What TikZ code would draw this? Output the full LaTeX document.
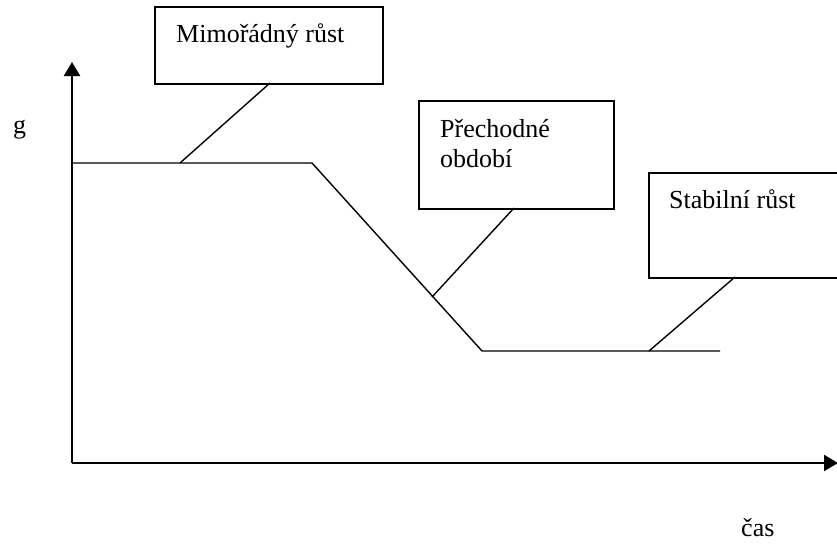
\documentclass[tikz,border=0pt]{standalone}
\usepackage{fontspec}
\setmainfont{Liberation Serif}
\usetikzlibrary{arrows.meta}
\begin{document}
\begin{tikzpicture}[x=1pt,y=-1pt,
  box/.style={draw,line width=2pt,rectangle,inner sep=0pt,anchor=north west},
  lbl/.style={anchor=base west,inner sep=0pt,font=\fontsize{26}{30}\selectfont},
  axis/.style={line width=2.2pt,-{Triangle[length=14pt,width=16pt]}},
  curve/.style={line width=1.4pt},
  callout/.style={line width=1.4pt}]
\useasboundingbox (0,0) rectangle (837,543);
\clip (0,0) rectangle (837,543);
% axes
\coordinate (O) at (72,463);
\coordinate (ytip) at (72,62);
\coordinate (xtip) at (838,463);
\draw[axis] (O) -- (ytip);
\draw[axis] (O) -- (xtip);
\node[lbl] (g) at (13,133) {g};
\node[lbl] (cas) at (741,536) {čas};
% curve
\coordinate (p0) at (72,163);
\coordinate (p1) at (312,163);
\coordinate (p2) at (482,351);
\coordinate (p3) at (720,351);
\draw[curve] (p0) -- (p1) -- (p2) -- (p3);
% boxes
\node[box,minimum width=228pt,minimum height=77pt] (b1) at (154,6) {};
\node[lbl] (t1) at (176,43) {Mimořádný růst};
\node[box,minimum width=195pt,minimum height=108pt] (b2) at (418,100) {};
\node[lbl] (t2) at (440,137) {Přechodné};
\node[lbl] (t2b) at (440,167) {období};
\node[box,minimum width=220pt,minimum height=105pt] (b3) at (648,172) {};
\node[lbl] (t3) at (669,208) {Stabilní růst};
% callouts
\coordinate (s1) at (270,83);
\coordinate (e1) at (180,163);
\coordinate (s2) at (514,208);
\coordinate (e2) at (432,297);
\coordinate (s3) at (735,277);
\coordinate (e3) at (649,351);
\draw[callout] (s1) -- (e1);
\draw[callout] (s2) -- (e2);
\draw[callout] (s3) -- (e3);
\end{tikzpicture}
\end{document}
